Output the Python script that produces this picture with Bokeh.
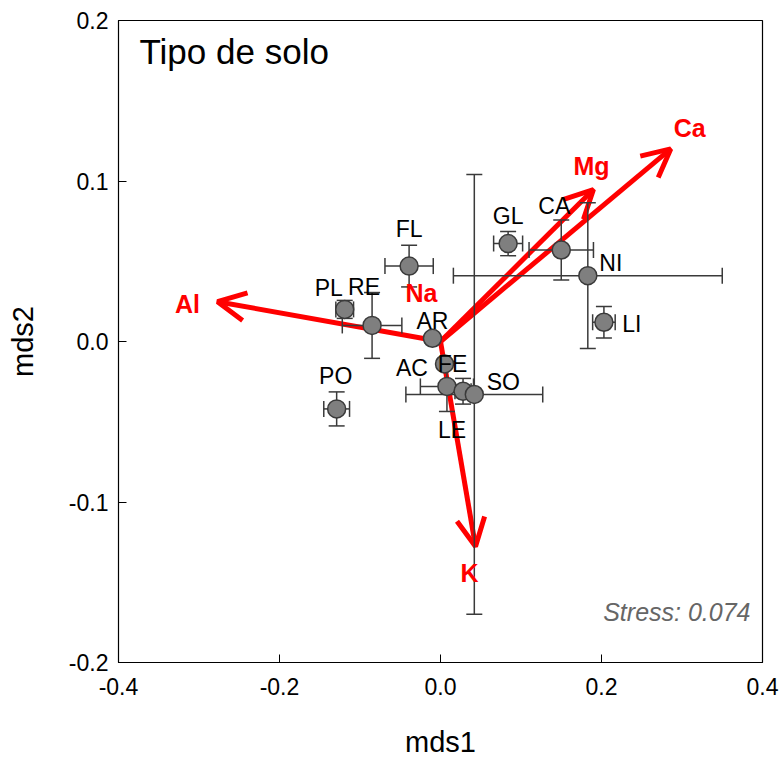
import numpy as np
from bokeh.plotting import figure
from bokeh.models import (ColumnDataSource, Whisker, TeeHead, Arrow, OpenHead,
                          Label, FixedTicker)
from bokeh.core.properties import value
from bokeh.embed import file_html
from bokeh.resources import INLINE

# ---- data ----
sites = ["FL", "PL", "RE", "AR", "FE", "AC", "LE", "SO", "PO", "GL", "CA", "NI", "LI"]
mds1 = [-0.039, -0.119, -0.085, -0.010, 0.005, 0.008, 0.028, 0.042, -0.129, 0.084, 0.150, 0.183, 0.203]
mds2 = [0.047, 0.020, 0.010, 0.002, -0.014, -0.028, -0.031, -0.033, -0.042, 0.061, 0.057, 0.041, 0.012]
err1 = [0.030, 0.011, 0.037, 0.004, 0.004, 0.033, 0.010, 0.085, 0.016, 0.018, 0.040, 0.167, 0.014]
err2 = [0.013, 0.0056, 0.0205, 0.003, 0.003, 0.0156, 0.008, 0.137, 0.0106, 0.0075, 0.0187, 0.0454, 0.0098]

env_vars = ["Al", "Ca", "Mg", "K", "Na"]
env_x = [-0.277, 0.286, 0.190, 0.0435, 0.0]
env_y = [0.0248, 0.120, 0.0947, -0.1277, 0.0]

xtick_vals = [-0.4, -0.2, 0.0, 0.2, 0.4]
xtick_labels = ["-0.4", "-0.2", "0.0", "0.2", "0.4"]
ytick_vals = [-0.2, -0.1, 0.0, 0.1, 0.2]
ytick_labels = ["-0.2", "-0.1", "0.0", "0.1", "0.2"]

stress_text = "Stress: 0.074"
title_text = "Tipo de solo"

# ---- label placement (pixel offsets, screen coords) ----
site_dx = [0, -16, -8, 0, 8, -35, -11, 29, -1, 0, -7, 23, 28]
site_dy = [-37, -21, -38, -17, 0, -18, 39, -12, -33, -28, -44, -13, 2]
env_dx = [-30, 19, -2, -6, -19]
env_dy = [2, -21, -24, 27, -49]

FONT = "Liberation Sans"

p = figure(width=782, height=760, x_range=(-0.4, 0.4), y_range=(-0.2, 0.2),
           output_backend="svg", toolbar_location=None,
           min_border_left=118, min_border_right=20, min_border_top=20, min_border_bottom=97)

p.xgrid.visible = False
p.ygrid.visible = False
p.outline_line_color = "black"
p.outline_line_width = 1.2
p.outline_line_alpha = 1.0

# arrows
x = np.array(mds1); y = np.array(mds2)
e1 = np.array(err1); e2 = np.array(err2)
ex = np.array(env_x); ey = np.array(env_y)
arr_src = ColumnDataSource(dict(x0=np.zeros(4), y0=np.zeros(4), x1=ex[:4], y1=ey[:4]))
p.add_layout(Arrow(source=arr_src, x_start="x0", y_start="y0", x_end="x1", y_end="y1",
                   line_color="red", line_width=5, level="underlay",
                   end=OpenHead(size=28, line_color="red", line_width=5)))

# error bars
src = ColumnDataSource(dict(x=x, y=y, xl=x - e1, xu=x + e1, yl=y - e2, yu=y + e2,
                            site=sites, dx=site_dx, dy=site_dy))
EC = "#3a3a3a"
def tee():
    return TeeHead(size=16, line_color=EC, line_width=1.5)
p.add_layout(Whisker(source=src, base="x", lower="yl", upper="yu", dimension="height",
                     line_color=EC, line_width=1.5, level="underlay",
                     lower_head=tee(), upper_head=tee()))
p.add_layout(Whisker(source=src, base="y", lower="xl", upper="xu", dimension="width",
                     line_color=EC, line_width=1.5, level="underlay",
                     lower_head=tee(), upper_head=tee()))

# points
p.scatter("x", "y", source=src, size=18, fill_color="#7f7f7f", line_color="#3a3a3a", line_width=1.5)

# site labels
p.text("x", "y", text="site", source=src, x_offset="dx", y_offset="dy",
       text_align="center", text_baseline="middle", text_font=value(FONT),
       text_font_size="23px", text_color="black")

# env labels
env_src = ColumnDataSource(dict(x=ex, y=ey, t=env_vars, dx=env_dx, dy=env_dy))
p.text("x", "y", text="t", source=env_src, x_offset="dx", y_offset="dy",
       text_align="center", text_baseline="middle", text_font=value(FONT),
       text_font_size="25px", text_font_style="bold", text_color="red")

# title & stress
p.add_layout(Label(x=-0.4, y=0.2, x_offset=21, y_offset=-31, text=title_text,
                   text_align="left", text_baseline="middle", text_font=FONT,
                   text_font_size="35px", text_color="black"))
p.add_layout(Label(x=0.4, y=-0.2, x_offset=-12, y_offset=51, text=stress_text,
                   text_align="right", text_baseline="middle", text_font=FONT,
                   text_font_size="25px", text_font_style="italic", text_color="#666666"))

# axes
for ax in (p.xaxis[0], p.yaxis[0]):
    ax.major_tick_in = 8
    ax.major_tick_out = 0
    ax.minor_tick_in = 0
    ax.minor_tick_out = 0
    ax.axis_line_color = "black"
    ax.major_tick_line_color = "black"
    ax.major_label_text_font = FONT
    ax.major_label_text_font_size = "23px"
    ax.major_label_text_color = "black"
    ax.axis_label_text_font = FONT
    ax.axis_label_text_font_size = "29px"
    ax.axis_label_text_font_style = "normal"
    ax.axis_label_text_color = "black"

p.xaxis.ticker = FixedTicker(ticks=xtick_vals)
p.yaxis.ticker = FixedTicker(ticks=ytick_vals)
p.xaxis.major_label_overrides = {v: l for v, l in zip(xtick_vals, xtick_labels)}
p.yaxis.major_label_overrides = {v: l for v, l in zip(ytick_vals, ytick_labels)}
p.xaxis.axis_label = "mds1"
p.yaxis.axis_label = "mds2"
p.xaxis.major_label_standoff = 15
p.yaxis.major_label_standoff = 10
p.xaxis.axis_label_standoff = 28
p.yaxis.axis_label_standoff = 27

open("out.html", "w").write(file_html(p, INLINE))
